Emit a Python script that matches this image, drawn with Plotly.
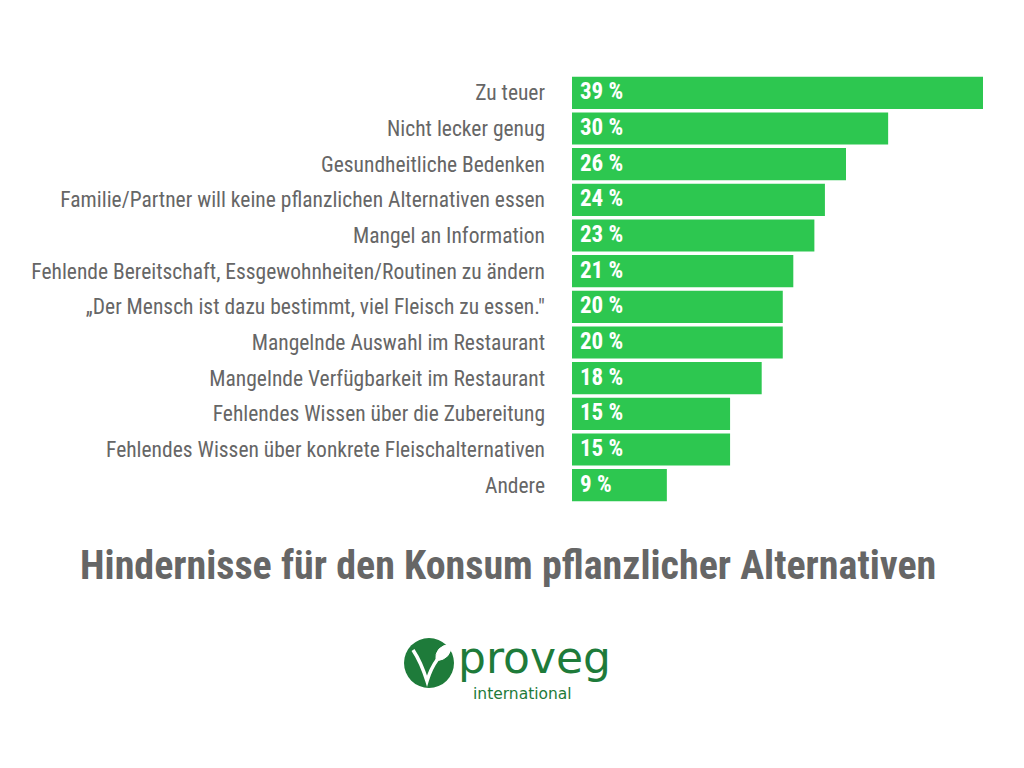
import plotly.graph_objects as go

categories = [
    "Zu teuer",
    "Nicht lecker genug",
    "Gesundheitliche Bedenken",
    "Familie/Partner will keine pflanzlichen Alternativen essen",
    "Mangel an Information",
    "Fehlende Bereitschaft, Essgewohnheiten/Routinen zu ändern",
    "„Der Mensch ist dazu bestimmt, viel Fleisch zu essen.\"",
    "Mangelnde Auswahl im Restaurant",
    "Mangelnde Verfügbarkeit im Restaurant",
    "Fehlendes Wissen über die Zubereitung",
    "Fehlendes Wissen über konkrete Fleischalternativen",
    "Andere",
]
values = [39, 30, 26, 24, 23, 21, 20, 20, 18, 15, 15, 9]
value_labels = [f"{v} %" for v in values]
title_text = "Hindernisse für den Konsum pflanzlicher Alternativen"

FONT = "Roboto Condensed, Liberation Sans Narrow, Roboto, sans-serif"
GREEN = "#2dc750"
GREY = "#666666"
LOGO = "#1e7b3a"

# page body has an 8px margin; compensate so the figure matches screen pixels
OFF = 8
W, H = 1024 - OFF, 768 - OFF
L, R, T, B = 572 - OFF, 1024 - 983, 75 - OFF, 768 - 503

fig = go.Figure(go.Bar(
    x=values, y=categories, orientation="h",
    marker=dict(color=GREEN, line=dict(width=0)),
    width=0.9,
    hoverinfo="skip",
))

for cat, lab in zip(categories, value_labels):
    fig.add_annotation(x=0, y=cat, text=f"<b>{lab}</b>", xanchor="left", yanchor="middle",
                       xshift=6, yshift=1, showarrow=False,
                       font=dict(family=FONT, size=23, color="white"))

fig.update_layout(
    width=W, height=H,
    margin=dict(l=L, r=R, t=T, b=B),
    paper_bgcolor="white", plot_bgcolor="white",
    showlegend=False,
    xaxis=dict(range=[0, 39], visible=False, fixedrange=True),
    yaxis=dict(categoryorder="array", categoryarray=categories[::-1],
               showgrid=False, zeroline=False, showline=False, ticks="",
               ticklabelstandoff=26,
               tickfont=dict(family=FONT, size=21.5, color=GREY)),
    font=dict(family=FONT),
)

def px(sx):
    return (sx - OFF - L) / (W - L - R)

def py(sy):
    return 1 - (sy - OFF - T) / (H - T - B)

# Title
fig.add_annotation(text=f"<b>{title_text}</b>", x=px(508), y=py(565),
                   xref="paper", yref="paper", yanchor="middle", xanchor="center",
                   showarrow=False,
                   font=dict(family=FONT, size=40, color=GREY))

# Logo
cx, cy, r = 429, 663, 25
fig.add_shape(type="circle", xref="paper", yref="paper",
              x0=px(cx - r), x1=px(cx + r), y0=py(cy + r), y1=py(cy - r),
              fillcolor=LOGO, line=dict(width=0))
fig.add_shape(type="path", xref="paper", yref="paper",
              path=(f"M {px(413)} {py(650)} Q {px(421)} {py(662)} {px(427)} {py(681)} "
                    f"Q {px(431)} {py(668)} {px(437)} {py(660)}"),
              line=dict(color="white", width=3.5))
fig.add_shape(type="path", xref="paper", yref="paper",
              path=(f"M {px(436)} {py(661)} Q {px(434)} {py(646)} {px(451)} {py(644)} "
                    f"Q {px(452)} {py(659)} {px(436)} {py(661)} Z"),
              fillcolor="white", line=dict(color="white", width=1))
fig.add_annotation(text="proveg", x=px(456), y=py(657), xref="paper", yref="paper",
                   xanchor="left", yanchor="middle", showarrow=False,
                   font=dict(family="DejaVu Sans, sans-serif", size=44, color=LOGO))
fig.add_annotation(text="international", x=px(471), y=py(694), xref="paper", yref="paper",
                   xanchor="left", yanchor="middle", showarrow=False,
                   font=dict(family="DejaVu Sans, sans-serif", size=15.5, color=LOGO))

fig.write_html("out.html")
